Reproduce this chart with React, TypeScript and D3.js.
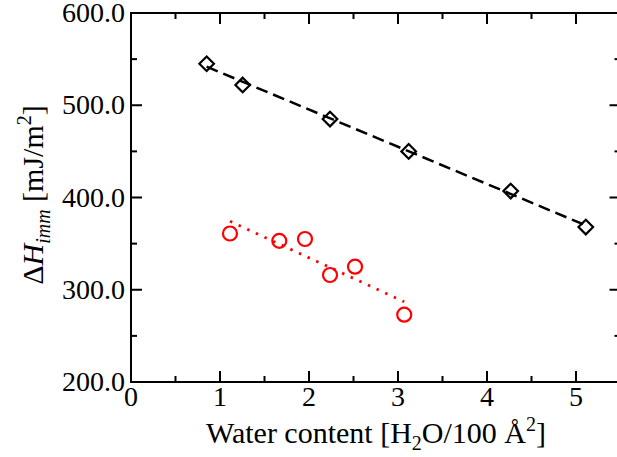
import React from "react";
import * as d3 from "d3";

// Data
const diamondX = [0.85, 1.255, 2.236, 3.12, 4.266, 5.11];
const diamondY = [545, 522, 485, 450, 407, 368];
const diamondFitX = [0.85, 5.11];
const diamondFitY = [541.8, 369.8];

const circleX = [1.112, 1.666, 1.955, 2.236, 2.517, 3.07];
const circleY = [361, 353, 355, 316, 325, 273];
const circleFitX = [1.112, 3.07];
const circleFitY = [374.3, 286.9];

const xMajor = [0, 1, 2, 3, 4, 5];
const xMinor = [0.5, 1.5, 2.5, 3.5, 4.5, 5.5];
const yMajor = [200, 300, 400, 500, 600];
const yMinor = [250, 350, 450, 550];

const W = 617;
const H = 457;
const L = 131, R = 620.5, T = 13, B = 382;

export default function App() {
  const x = d3.scaleLinear().domain([0, 5.5]).range([L, R]);
  const y = d3.scaleLinear().domain([200, 600]).range([B, T]);
  const line = d3.line<[number, number]>().x(d => x(d[0])).y(d => y(d[1]));
  const font = "'Liberation Serif', 'Times New Roman', serif";
  const dFit = line(diamondFitX.map((v, i) => [v, diamondFitY[i]]))!;
  const cFit = line(circleFitX.map((v, i) => [v, circleFitY[i]]))!;
  const majL = 11, minL = 6;
  return (
    <svg width={W} height={H} style={{ position: "absolute", left: 0, top: 0, background: "#fff" }}>
      <rect x={0} y={0} width={W} height={H} fill="#fff" />
      {/* frame */}
      <rect x={L} y={T} width={R - L} height={B - T} fill="none" stroke="#000" strokeWidth={2} />
      {/* x ticks */}
      {xMajor.map(v => (
        <g key={"xm" + v}>
          <line x1={x(v)} x2={x(v)} y1={B} y2={B - majL} stroke="#000" strokeWidth={2} />
          <line x1={x(v)} x2={x(v)} y1={T} y2={T + majL} stroke="#000" strokeWidth={2} />
          <text x={x(v)} y={406} textAnchor="middle" fontFamily={font} fontSize={28}>{v}</text>
        </g>
      ))}
      {xMinor.map(v => (
        <g key={"xn" + v}>
          <line x1={x(v)} x2={x(v)} y1={B} y2={B - minL} stroke="#000" strokeWidth={2} />
          <line x1={x(v)} x2={x(v)} y1={T} y2={T + minL} stroke="#000" strokeWidth={2} />
        </g>
      ))}
      {yMajor.map(v => (
        <g key={"ym" + v}>
          <line x1={L} x2={L + majL} y1={y(v)} y2={y(v)} stroke="#000" strokeWidth={2} />
          <line x1={R} x2={R - majL} y1={y(v)} y2={y(v)} stroke="#000" strokeWidth={2} />
          <text x={125} y={y(v) + 9} textAnchor="end" fontFamily={font} fontSize={28}>{v.toFixed(1)}</text>
        </g>
      ))}
      {yMinor.map(v => (
        <g key={"yn" + v}>
          <line x1={L} x2={L + minL} y1={y(v)} y2={y(v)} stroke="#000" strokeWidth={2} />
          <line x1={R} x2={R - minL} y1={y(v)} y2={y(v)} stroke="#000" strokeWidth={2} />
        </g>
      ))}
      {/* fits */}
      <path d={dFit} fill="none" stroke="#000" strokeWidth={2.5} strokeDasharray="12,6" />
      <path d={cFit} fill="none" stroke="#ff0000" strokeWidth={2.8} strokeDasharray="2.5,7" />
      {/* diamonds */}
      {diamondX.map((v, i) => {
        const cx = x(v), cy = y(diamondY[i]), s = 7.3;
        return (
          <path key={"d" + i} d={`M${cx},${cy - s}L${cx + s},${cy}L${cx},${cy + s}L${cx - s},${cy}Z`}
            fill="none" stroke="#000" strokeWidth={2.2} />
        );
      })}
      {/* circles */}
      {circleX.map((v, i) => (
        <circle key={"c" + i} cx={x(v)} cy={y(circleY[i])} r={7} fill="none" stroke="#ff0000" strokeWidth={2.2} />
      ))}
      {/* axis titles */}
      <text x={376} y={443} textAnchor="middle" fontFamily={font} fontSize={30}>
        Water content [H<tspan fontSize={20} dy={7}>2</tspan><tspan dy={-7}>O/100 Å</tspan><tspan fontSize={20} dy={-12}>2</tspan><tspan dy={12}>]</tspan>
      </text>
      <text transform="translate(43,195) rotate(-90)" textAnchor="middle" fontFamily={font} fontSize={30}>
        Δ<tspan fontStyle="italic">H</tspan><tspan fontStyle="italic" fontSize={20} dy={7}>imm</tspan><tspan dy={-7}> [mJ/m</tspan><tspan fontSize={20} dy={-12}>2</tspan><tspan dy={12}>]</tspan>
      </text>
    </svg>
  );
}
